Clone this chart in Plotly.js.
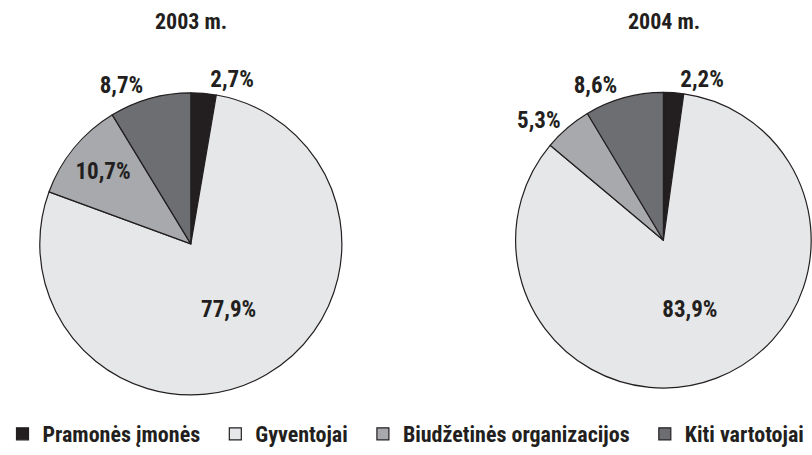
<!DOCTYPE html>
<html><head><meta charset="utf-8">
<script src="https://cdn.plot.ly/plotly-3.0.1.min.js"></script>
<style>body{margin:0;background:#fff}#c{width:812px;height:455px}</style>
</head><body><div id="c"></div>
<script>
const categories = ["Pramonės įmonės", "Gyventojai", "Biudžetinės organizacijos", "Kiti vartotojai"];
const years = ["2003 m.", "2004 m."];
const values2003 = [2.7, 77.9, 10.7, 8.7];
const values2004 = [2.2, 83.9, 5.3, 8.6];
const colors = ["#231f20", "#e6e7e8", "#a7a9ac", "#6d6e71"];
const FONT = "'Roboto Condensed', 'Open Sans', sans-serif";

// extra non-breaking spaces only widen the gap between legend entries
const PAD = "\u00a0\u00a0";
const legendLabels = categories.map((c, i) => i < categories.length - 1 ? c + PAD : c);

function pie(values, domain, positions, show) {
  return {
    type: "pie", labels: legendLabels, values: values, sort: false,
    direction: "clockwise", rotation: 0,
    marker: {colors: colors, line: {color: "#231f20", width: 1.2}},
    texttemplate: "%{value:.1f}%", textposition: positions,
    textfont: {family: FONT, size: 23, color: "#231f20", weight: "bold"},
    insidetextorientation: "horizontal",
    domain: domain, showlegend: show, hoverinfo: "none"
  };
}
const data = [
  pie(values2003, {x: [0.049, 0.421], y: [0.132, 0.796]}, ["outside", "inside", "inside", "outside"], true),
  pie(values2004, {x: [0.635, 0.999], y: [0.147, 0.797]}, ["outside", "inside", "outside", "outside"], false)
];
const titleFont = {size: 22, family: FONT, color: "#231f20", weight: "bold"};
const layout = {
  width: 812, height: 455, separators: ", ",
  margin: {l: 0, r: 0, t: 0, b: 0},
  paper_bgcolor: "#fff", font: {family: FONT, color: "#231f20"},
  annotations: [
    {text: years[0], x: 0.235, y: 0.953, xanchor: "center", yanchor: "middle", xref: "paper", yref: "paper", showarrow: false, font: titleFont},
    {text: years[1], x: 0.818, y: 0.953, xanchor: "center", yanchor: "middle", xref: "paper", yref: "paper", showarrow: false, font: titleFont}
  ],
  legend: {orientation: "h", x: 0.5, xanchor: "center", y: 0, yanchor: "bottom",
    font: {size: 22, family: FONT, color: "#231f20", weight: "bold"}, traceorder: "normal", itemwidth: 30},
  showlegend: true
};
Plotly.newPlot("c", data, layout, {displayModeBar: false, staticPlot: true});
</script></body></html>
